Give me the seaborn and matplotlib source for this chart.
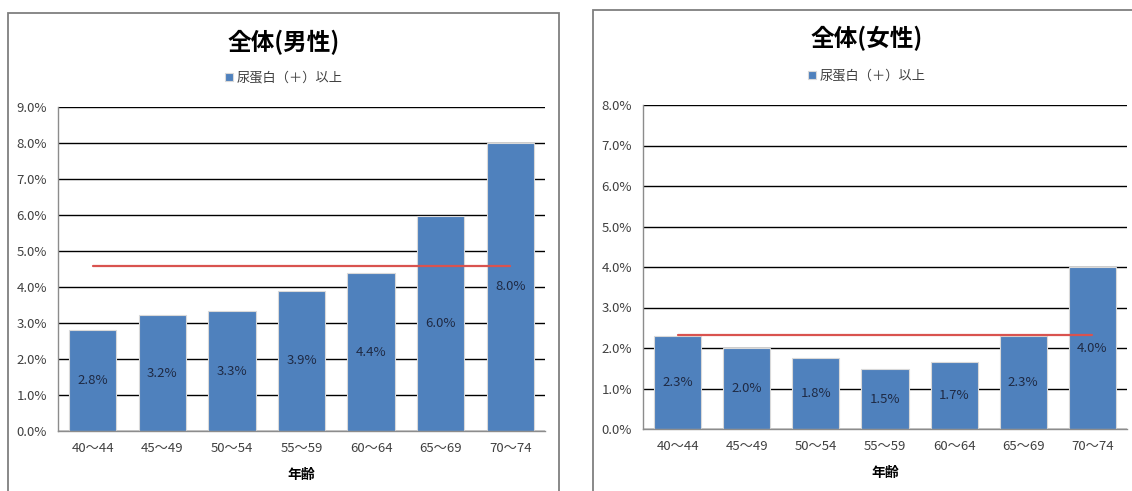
import numpy as np
import pandas as pd
import matplotlib
matplotlib.use('Agg')
import matplotlib.pyplot as plt
from matplotlib.patches import Rectangle
from matplotlib.ticker import FuncFormatter
import seaborn as sns

# data
ages = ['40～44', '45～49', '50～54', '55～59', '60～64', '65～69', '70～74']
male_rate = [2.8, 3.22, 3.32, 3.9, 4.38, 5.97, 8.0]
male_labels = ['2.8%', '3.2%', '3.3%', '3.9%', '4.4%', '6.0%', '8.0%']
male_avg = 4.57
female_rate = [2.3, 2.0, 1.75, 1.48, 1.66, 2.3, 4.0]
female_labels = ['2.3%', '2.0%', '1.8%', '1.5%', '1.7%', '2.3%', '4.0%']
female_avg = 2.33
titles = ['全体(男性)', '全体(女性)']
legend_label = '尿蛋白（＋）以上'
xlabel = '年齢'

sns.set_theme(style='white')
plt.rcParams['font.family'] = ['Noto Sans CJK JP', 'DejaVu Sans']

BAR = '#4F81BD'
TXT = '#404040'

fig = plt.figure(figsize=(11.32, 4.91), dpi=100)

# chart frames
fig.patches.append(Rectangle((8 / 1132, -0.1), 551 / 1132, 0.1 + 478 / 491,
                             transform=fig.transFigure, fill=False,
                             edgecolor='#7f7f7f', lw=1.3, zorder=0))
fig.patches.append(Rectangle((593 / 1132, -0.1), 560 / 1132, 0.1 + 481 / 491,
                             transform=fig.transFigure, fill=False,
                             edgecolor='#7f7f7f', lw=1.3, zorder=0))

panels = [
    dict(rect=[58 / 1132, 60 / 491, 487 / 1132, 324 / 491], vals=male_rate,
         labels=male_labels, avg=male_avg, ymax=9, cx=284 / 1132,
         ty=(491 - 42) / 491, ly=(491 - 78) / 491, xl_y=(491 - 475) / 491),
    dict(rect=[643 / 1132, 62 / 491, 484 / 1132, 324 / 491], vals=female_rate,
         labels=female_labels, avg=female_avg, ymax=8, cx=867 / 1132,
         ty=(491 - 38) / 491, ly=(491 - 76) / 491, xl_y=(491 - 473) / 491),
]

for i, p in enumerate(panels):
    ax = fig.add_axes(p['rect'])
    df = pd.DataFrame({'age': ages, 'rate': p['vals']})
    sns.barplot(data=df, x='age', y='rate', ax=ax, color=BAR, saturation=1,
                width=0.68, edgecolor='#d9d9d9', linewidth=0.8,
                label=legend_label, zorder=2)
    if ax.get_legend() is not None:
        ax.get_legend().remove()
    ax.bar_label(ax.containers[0], labels=p['labels'], label_type='center',
                 fontsize=9.5, color='#1f2a44')
    # average line across categories
    xs = np.arange(len(ages))
    ax.plot(xs, [p['avg']] * len(ages), color='#d9534f', lw=1.6, zorder=3)

    ax.set_ylim(0, p['ymax'])
    ax.set_xlim(-0.5, len(ages) - 0.5)
    ax.set_yticks(np.arange(0, p['ymax'] + 0.5, 1.0))
    ax.yaxis.set_major_formatter(FuncFormatter(lambda v, _: f'{v:.1f}%'))
    ax.grid(axis='y', color='black', lw=1.0)
    ax.set_axisbelow(True)
    ax.tick_params(axis='both', length=0, labelsize=9.5, colors=TXT, pad=8)
    ax.set_xlabel('')
    ax.set_ylabel('')
    for s in ['top', 'right']:
        ax.spines[s].set_visible(False)
    for s in ['left', 'bottom']:
        ax.spines[s].set_color('#8c8c8c')
        ax.spines[s].set_linewidth(1.0)

    fig.text(p['cx'], p['ty'], titles[i], ha='center', va='center',
             fontsize=17, fontweight='bold', color='black')
    handles, lbls = ax.get_legend_handles_labels()
    fig.legend(handles[:1], lbls[:1], loc='center',
               bbox_to_anchor=(p['cx'], p['ly']),
               frameon=False, fontsize=9.5, handlelength=0.6, handleheight=0.6,
               handletextpad=0.3, labelcolor=TXT)
    fig.text(p['rect'][0] + p['rect'][2] / 2, p['xl_y'], xlabel, ha='center',
             va='center', fontsize=10, fontweight='bold', color='black')

fig.savefig('out.png', dpi=100)
